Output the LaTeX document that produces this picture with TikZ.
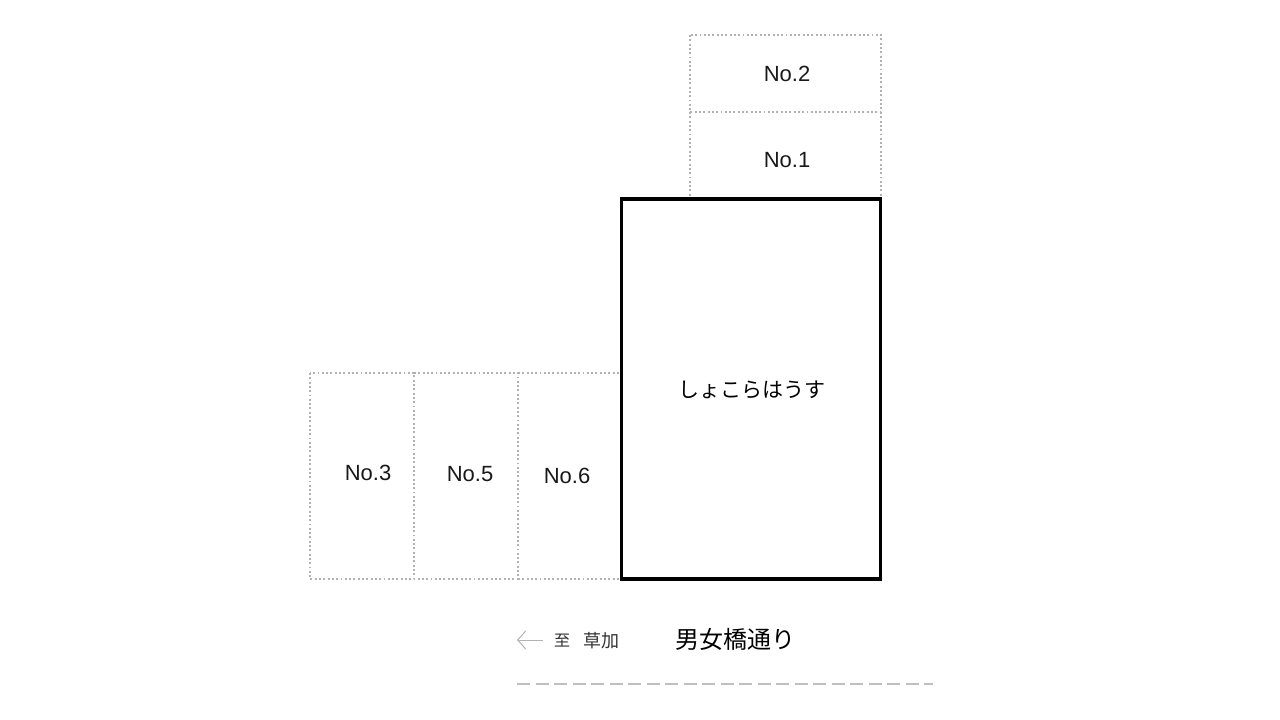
\documentclass[tikz,border=0pt]{standalone}
\usepackage{fontspec}
\usepackage{tikz}
\usetikzlibrary{arrows.meta}
\setmainfont{Liberation Sans}
\newfontfamily\cjk{Noto Sans CJK JP}
\definecolor{lotgray}{gray}{0.7}
\definecolor{roadgray}{gray}{0.75}

\begin{document}
\begin{tikzpicture}[x=1pt, y=-1pt]
\tikzstyle{every node} = [inner sep=0pt, outer sep=0pt]
\tikzstyle{lot} = [minimum width=104pt, minimum height=206pt]
\tikzstyle{lotline} = [draw=lotgray, line width=1.3pt, dash pattern=on 1.9pt off 2.4pt]
\tikzstyle{house} = [draw=black, line width=3.5pt]
\tikzstyle{lotlabel} = [font=\fontsize{22}{22}\selectfont, text=black!90]
\useasboundingbox (0, 0) rectangle (1280, 720);

\node [lot, minimum width=191pt, minimum height=77pt] (lot2) at (785.5, 73.5) {};
\node [lot, minimum width=191pt, minimum height=86pt] (lot1) at (785.5, 155) {};
\node [lot] (lot3) at (362, 476) {};
\node [lot] (lot5) at (466, 476) {};
\node [lot] (lot6) at (570, 476) {};

% shared edges are drawn once
\draw [lotline] (lot2.north west) rectangle (lot2.south east);
\draw [lotline] (lot2.south west) -- (lot1.south west);
\draw [lotline] (lot2.south east) -- (lot1.south east);
\draw [lotline] (lot3.north west) rectangle (lot3.south east);
\draw [lotline] (lot3.north east) -- (lot5.north east) -- (lot5.south east) -- (lot3.south east);
\draw [lotline] (lot5.north east) -- (lot6.north east);
\draw [lotline] (lot5.south east) -- (lot6.south east);

\node [house, fill=white, minimum width=259pt, minimum height=380pt] (house) at (751, 389) {};

\node [lotlabel] (no2) at (787, 74) {No.2};
\node [lotlabel] (no1) at (787, 160) {No.1};
\node [lotlabel] (no3) at (368, 473) {No.3};
\node [lotlabel] (no5) at (470, 474) {No.5};
\node [lotlabel] (no6) at (567, 476) {No.6};

\node [font=\cjk\fontsize{21}{21}\selectfont] (name) at (751.5, 390) {しょこらはうす};
\node [font=\cjk\fontsize{24}{24}\selectfont] (road) at (735.5, 639.5) {男女橋通り};
\node [font=\cjk\fontsize{16}{16}\selectfont, text=black!80] (to) at (562, 641) {至};
\node [font=\cjk\fontsize{18}{18}\selectfont, text=black!80] (soka) at (601.5, 641) {草加};

\coordinate (arrowstart) at (543, 640);
\coordinate (arrowend) at (517, 640);
\draw [-{Straight Barb[length=8pt, width=18pt]}, draw=lotgray, line width=1pt] (arrowstart) -- (arrowend);

\coordinate (roadstart) at (517, 684);
\coordinate (roadend) at (933, 684);
\draw [draw=roadgray, line width=2.4pt, dash pattern=on 13pt off 5.5pt] (roadstart) -- (roadend);
\end{tikzpicture}
\end{document}
